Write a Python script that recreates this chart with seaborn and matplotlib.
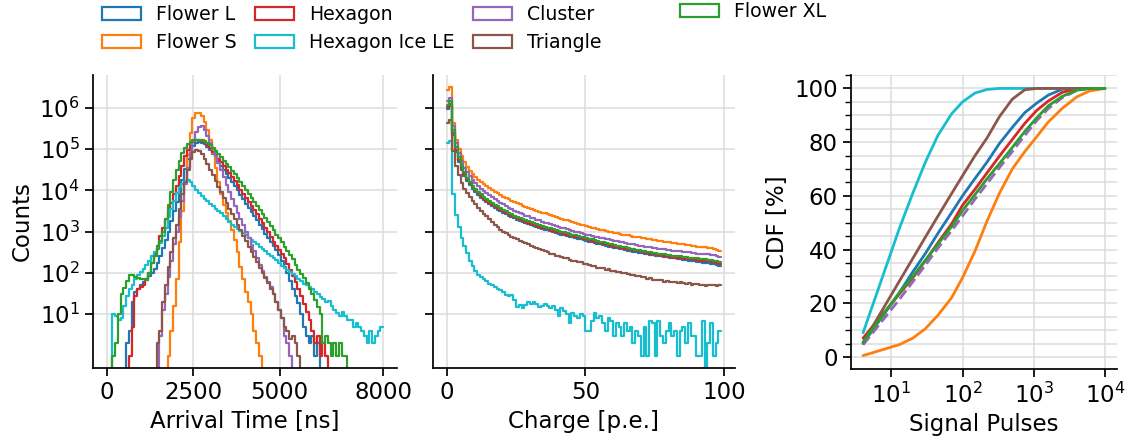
import numpy as np
import matplotlib
matplotlib.use("Agg")
import matplotlib.pyplot as plt
from matplotlib.patches import Patch
from matplotlib.ticker import MultipleLocator, NullLocator
import seaborn as sns

EMPTY = -np.inf  # log10 of an empty bin

# ---------------- series names and colours ----------------
names = ["Flower L", "Flower S", "Hexagon", "Hexagon Ice LE", "Cluster", "Triangle", "Flower XL"]
colors = ["#1f77b4", "#ff7f0e", "#d62728", "#17becf", "#9467bd", "#8c564b", "#2ca02c"]

# ---------------- arrival time histograms (log10 counts, 80 ns bins) ----------------
time_edges = np.linspace(0, 8000, 101)

time_flower_l = [EMPTY] * 7 + [
    0.3, 0.6, 1.3, 1.55, 1.62, 1.7, 1.78, 1.85, 1.93, 2.0, 2.1, 2.25, 2.42, 2.6, 2.8, 3.0, 3.25, 3.5, 3.72, 3.95,
    4.25, 4.52, 4.77, 4.95, 5.07, 5.14, 5.16, 5.15, 5.12, 5.06, 4.98, 4.89, 4.8, 4.7, 4.6, 4.5, 4.4, 4.3, 4.2, 4.1,
    4.0, 3.88, 3.78, 3.68, 3.58, 3.48, 3.38, 3.28, 3.17, 3.06, 2.95, 2.85, 2.75, 2.65, 2.55, 2.44, 2.3, 2.15, 2.0, 1.8,
    1.62, 1.45, 1.28, 1.0, 0.7, 0.48, 0.3, 0.48, 0.0, 0.3] + [EMPTY] * 23

time_flower_s = [EMPTY] * 22 + [
    0.0, 0.6, 1.2, 1.85, 2.75, 3.5, 4.2, 4.85, 5.4, 5.75, 5.88, 5.87, 5.8, 5.65, 5.45, 5.22, 4.9, 4.55, 4.2, 3.9,
    3.65, 3.45, 3.25, 3.05, 2.8, 2.5, 2.15, 1.85, 1.55, 1.3, 1.0, 0.6, 0.3, 0.0] + [EMPTY] * 44

time_hexagon = [EMPTY] * 8 + [
    0.0, 0.7, 1.45, 1.6, 1.65, 1.72, 1.82, 2.0, 2.25, 2.45, 2.65, 2.9, 3.1, 3.3, 3.5, 3.7, 3.9, 4.1, 4.35, 4.6,
    4.82, 4.98, 5.1, 5.17, 5.21, 5.22, 5.2, 5.15, 5.09, 5.02, 4.94, 4.86, 4.77, 4.68, 4.59, 4.5, 4.41, 4.32, 4.22, 4.12,
    4.02, 3.92, 3.82, 3.72, 3.62, 3.52, 3.42, 3.3, 3.2, 3.09, 2.98, 2.87, 2.76, 2.65, 2.55, 2.45, 2.35, 2.22, 2.08, 1.93,
    1.78, 1.62, 1.45, 1.25, 1.05, 0.85, 0.6, 0.3, 0.48, 0.0, 0.3, 0.0] + [EMPTY] * 20

time_ice = [EMPTY] * 2 + [
    1.0, 0.95, 0.85, 0.9, 1.2, 1.45, 1.6, 1.7, 1.85, 1.95, 2.03, 2.1, 2.2, 2.3, 2.4, 2.5, 2.6, 2.73, 2.9, 3.1,
    3.35, 3.55, 3.75, 3.93, 4.07, 4.16, 4.22, 4.25, 4.2, 4.1, 4.0, 3.93, 3.86, 3.8, 3.74, 3.68, 3.62, 3.56, 3.5, 3.44,
    3.37, 3.3, 3.23, 3.17, 3.11, 3.06, 3.01, 2.96, 2.91, 2.85, 2.8, 2.75, 2.69, 2.63, 2.57, 2.52, 2.46, 2.41, 2.36, 2.31,
    2.25, 2.18, 2.12, 2.08, 2.02, 1.98, 1.93, 1.86, 1.8, 1.74, 1.7, 1.66, 1.6, 1.55, 1.48, 1.42, 1.38, 1.3, 1.32, 1.2,
    1.1, 1.02, 0.95, 1.05, 0.95, 0.85, 0.85, 0.7, 0.78, 0.7, 0.6, 0.48, 0.3, 0.6, 0.3, 0.48, 0.6, 0.7]

time_cluster = [EMPTY] * 19 + [
    0.48, 1.1, 1.5, 1.9, 2.3, 2.7, 3.0, 3.35, 3.75, 4.15, 4.55, 4.9, 5.2, 5.42, 5.54, 5.56, 5.47, 5.32, 5.15, 5.0,
    4.83, 4.66, 4.49, 4.32, 4.14, 3.96, 3.78, 3.62, 3.46, 3.3, 3.15, 3.0, 2.84, 2.68, 2.52, 2.36, 2.2, 2.05, 1.9, 1.78,
    1.65, 1.5, 1.3, 1.1, 0.9, 0.48, 0.3, 0.0] + [EMPTY] * 33

time_triangle = [EMPTY] * 18 + [
    0.3, 0.6, 1.3, 1.7, 2.15, 2.5, 2.85, 3.15, 3.55, 3.9, 4.2, 4.5, 4.75, 4.92, 4.98, 4.96, 4.88, 4.77, 4.64, 4.5,
    4.36, 4.22, 4.08, 3.95, 3.82, 3.69, 3.56, 3.43, 3.3, 3.17, 3.04, 2.9, 2.77, 2.64, 2.5, 2.38, 2.26, 2.13, 2.0, 1.87,
    1.75, 1.62, 1.48, 1.3, 1.1, 0.9, 0.7, 0.6, 0.4, 0.48, 0.3, 0.0] + [EMPTY] * 30

time_flower_xl = [EMPTY] * 2 + [
    0.0, 0.3, 1.0, 1.5, 1.63, 1.8, 1.95, 1.95, 1.9, 1.88, 1.85, 1.85, 1.83, 2.0, 2.23, 2.4, 2.58, 2.78, 3.0, 3.3,
    3.65, 3.95, 4.25, 4.5, 4.72, 4.9, 5.03, 5.12, 5.18, 5.21, 5.22, 5.22, 5.21, 5.19, 5.15, 5.1, 5.03, 4.96, 4.88, 4.8,
    4.72, 4.64, 4.56, 4.47, 4.39, 4.3, 4.21, 4.11, 4.01, 3.91, 3.81, 3.72, 3.62, 3.53, 3.43, 3.33, 3.23, 3.13, 3.03, 2.93,
    2.84, 2.74, 2.64, 2.54, 2.44, 2.33, 2.2, 2.08, 1.97, 1.87, 1.76, 1.62, 1.48, 1.34, 1.18, 1.0, 0.3, 0.48, 0.3, 0.0,
    0.3, 0.0, 0.3, 0.0, 0.0] + [EMPTY] * 13

# ---------------- charge histograms (log10 counts, 1 p.e. bins) ----------------
charge_edges = np.arange(0, 100)

charge_flower_l = [
    5.98, 6.05, 5.33, 4.93, 4.69, 4.50, 4.35, 4.22, 4.12, 4.03, 3.95, 3.88, 3.82, 3.76, 3.71, 3.66, 3.61, 3.57, 3.53, 3.49,
    3.45, 3.42, 3.38, 3.35, 3.32, 3.29, 3.26, 3.24, 3.21, 3.19, 3.16, 3.14, 3.12, 3.09, 3.07, 3.05, 3.03, 3.01, 2.99, 2.97,
    2.95, 2.93, 2.91, 2.90, 2.88, 2.86, 2.84, 2.82, 2.81, 2.79, 2.77, 2.75, 2.74, 2.72, 2.71, 2.69, 2.67, 2.66, 2.64, 2.63,
    2.61, 2.60, 2.58, 2.57, 2.55, 2.54, 2.53, 2.51, 2.50, 2.49, 2.48, 2.47, 2.45, 2.44, 2.43, 2.42, 2.41, 2.40, 2.39, 2.38,
    2.37, 2.36, 2.35, 2.34, 2.33, 2.32, 2.31, 2.30, 2.29, 2.28, 2.27, 2.26, 2.25, 2.24, 2.23, 2.22, 2.21, 2.19, 2.17]

charge_flower_s = [
    6.44, 6.49, 5.63, 5.23, 5.00, 4.82, 4.68, 4.57, 4.47, 4.39, 4.32, 4.26, 4.20, 4.15, 4.10, 4.05, 4.01, 3.97, 3.93, 3.89,
    3.85, 3.82, 3.78, 3.75, 3.72, 3.69, 3.66, 3.63, 3.60, 3.58, 3.55, 3.53, 3.51, 3.48, 3.46, 3.44, 3.42, 3.40, 3.37, 3.35,
    3.33, 3.31, 3.29, 3.27, 3.25, 3.23, 3.21, 3.19, 3.17, 3.16, 3.14, 3.12, 3.10, 3.09, 3.07, 3.05, 3.03, 3.02, 3.00, 2.99,
    2.97, 2.96, 2.95, 2.93, 2.92, 2.91, 2.90, 2.88, 2.87, 2.86, 2.85, 2.84, 2.82, 2.81, 2.80, 2.79, 2.78, 2.77, 2.76, 2.75,
    2.74, 2.73, 2.72, 2.71, 2.70, 2.69, 2.68, 2.67, 2.66, 2.65, 2.64, 2.63, 2.62, 2.62, 2.61, 2.60, 2.58, 2.56, 2.53]

charge_hexagon = [
    6.02, 6.10, 5.38, 4.98, 4.74, 4.55, 4.40, 4.27, 4.17, 4.08, 4.00, 3.93, 3.86, 3.80, 3.75, 3.70, 3.65, 3.61, 3.57, 3.53,
    3.49, 3.45, 3.42, 3.38, 3.35, 3.32, 3.29, 3.27, 3.24, 3.22, 3.19, 3.17, 3.14, 3.12, 3.10, 3.08, 3.06, 3.04, 3.02, 3.00,
    2.98, 2.96, 2.94, 2.93, 2.91, 2.89, 2.87, 2.86, 2.84, 2.83, 2.81, 2.79, 2.77, 2.76, 2.74, 2.72, 2.70, 2.69, 2.67, 2.66,
    2.64, 2.63, 2.61, 2.60, 2.58, 2.57, 2.56, 2.55, 2.53, 2.52, 2.51, 2.50, 2.48, 2.47, 2.46, 2.45, 2.44, 2.42, 2.41, 2.40,
    2.39, 2.38, 2.37, 2.37, 2.36, 2.35, 2.34, 2.33, 2.33, 2.32, 2.31, 2.30, 2.29, 2.29, 2.28, 2.27, 2.26, 2.24, 2.22]

# sparse sample: raw counts per bin
charge_ice_counts = [
    140000, 155000, 8000, 2600, 1300, 700, 450, 300, 200, 150, 110, 90, 80, 72, 65, 55, 50, 45, 42, 38,
    35, 30, 28, 30, 22, 15, 17, 14, 17, 20, 18, 20, 18, 15, 16, 18, 16, 14, 16, 13,
    9, 14, 12, 10, 6, 11, 9, 8, 10, 9, 4, 4, 7, 11, 8, 9, 6, 4, 8, 7,
    3, 6, 5, 3, 6, 4, 5, 2, 4, 3, 1, 5, 1, 7, 6, 1, 7, 3, 2, 4,
    6, 3, 4, 1, 4, 5, 2, 6, 3, 3, 1, 1, 7, 0, 2, 6, 1, 2, 4]

charge_cluster = [
    6.17, 6.23, 5.55, 5.15, 4.90, 4.70, 4.55, 4.44, 4.34, 4.25, 4.17, 4.10, 4.04, 3.98, 3.93, 3.88, 3.83, 3.79, 3.74, 3.70,
    3.66, 3.62, 3.58, 3.55, 3.51, 3.48, 3.45, 3.42, 3.39, 3.37, 3.34, 3.32, 3.29, 3.27, 3.24, 3.22, 3.20, 3.18, 3.16, 3.14,
    3.12, 3.10, 3.08, 3.06, 3.04, 3.02, 3.00, 2.98, 2.97, 2.95, 2.93, 2.91, 2.90, 2.88, 2.87, 2.85, 2.84, 2.82, 2.81, 2.79,
    2.78, 2.77, 2.75, 2.74, 2.72, 2.71, 2.70, 2.69, 2.67, 2.66, 2.65, 2.64, 2.63, 2.62, 2.61, 2.60, 2.59, 2.58, 2.57, 2.56,
    2.55, 2.54, 2.54, 2.53, 2.52, 2.51, 2.50, 2.50, 2.49, 2.48, 2.47, 2.47, 2.46, 2.45, 2.45, 2.44, 2.43, 2.41, 2.38]

charge_triangle = [
    5.62, 5.70, 4.95, 4.58, 4.36, 4.18, 4.04, 3.93, 3.83, 3.74, 3.66, 3.58, 3.50, 3.43, 3.37, 3.30, 3.24, 3.17, 3.11, 3.05,
    3.00, 2.96, 2.93, 2.88, 2.85, 2.82, 2.78, 2.76, 2.72, 2.69, 2.66, 2.64, 2.60, 2.58, 2.55, 2.52, 2.51, 2.47, 2.45, 2.42,
    2.40, 2.39, 2.35, 2.36, 2.31, 2.30, 2.28, 2.26, 2.27, 2.22, 2.21, 2.19, 2.16, 2.17, 2.13, 2.12, 2.11, 2.08, 2.09, 2.05,
    2.05, 2.02, 2.03, 1.99, 2.00, 1.98, 1.95, 1.96, 1.92, 1.93, 1.90, 1.89, 1.86, 1.88, 1.84, 1.84, 1.82, 1.83, 1.79, 1.80,
    1.79, 1.77, 1.78, 1.75, 1.77, 1.76, 1.73, 1.75, 1.72, 1.74, 1.73, 1.70, 1.72, 1.69, 1.71, 1.70, 1.72, 1.69, 1.72]

charge_flower_xl = [
    6.07, 6.17, 5.45, 5.05, 4.80, 4.60, 4.44, 4.30, 4.20, 4.11, 4.03, 3.96, 3.90, 3.84, 3.79, 3.74, 3.69, 3.65, 3.61, 3.57,
    3.53, 3.49, 3.46, 3.42, 3.39, 3.36, 3.33, 3.31, 3.28, 3.26, 3.23, 3.21, 3.18, 3.16, 3.14, 3.12, 3.10, 3.08, 3.06, 3.04,
    3.02, 3.00, 2.98, 2.97, 2.95, 2.93, 2.91, 2.90, 2.88, 2.87, 2.85, 2.83, 2.81, 2.80, 2.78, 2.76, 2.74, 2.73, 2.71, 2.70,
    2.68, 2.66, 2.65, 2.63, 2.62, 2.60, 2.59, 2.58, 2.56, 2.55, 2.54, 2.53, 2.51, 2.50, 2.49, 2.48, 2.47, 2.46, 2.45, 2.44,
    2.43, 2.42, 2.41, 2.41, 2.40, 2.39, 2.38, 2.37, 2.37, 2.36, 2.35, 2.34, 2.33, 2.33, 2.32, 2.31, 2.30, 2.29, 2.27]

# ---------------- cumulative signal-pulse distributions [%] ----------------
pulses = [4, 13, 20, 30, 45, 70, 100, 150, 220, 330, 500, 750, 1100, 1600, 2500, 4000, 6000, 10000]
cdf_flower_l = [5.0, 24.0, 31.7, 38.5, 46.0, 53.7, 60.0, 66.5, 72.5, 79.5, 85.5, 91.0, 94.5, 97.5, 99.7, 100, 100, 100]
cdf_flower_s = [0.5, 4.6, 7.0, 10.5, 15.5, 22.0, 29.5, 39.5, 50.5, 61.0, 70.0, 76.5, 82.0, 87.5, 92.5, 96.8, 99.0, 100]
cdf_hexagon = [7.0, 23.5, 29.5, 35.8, 42.5, 49.5, 56.5, 62.5, 68.5, 74.8, 81.0, 87.0, 91.8, 95.3, 98.5, 99.9, 100, 100]
cdf_ice = [9.0, 48.0, 61.0, 72.5, 82.5, 90.5, 95.0, 98.3, 99.6, 100, 100, 100, 100, 100, 100, 100, 100, 100]
cdf_cluster = [4.5, 21.5, 28.0, 34.2, 40.5, 47.0, 52.5, 58.8, 64.5, 70.5, 76.5, 82.5, 88.0, 92.5, 96.5, 99.2, 100, 100]
cdf_triangle = [5.3, 28.3, 36.7, 44.6, 52.4, 60.8, 67.5, 75.0, 81.5, 89.5, 96.0, 99.5, 100, 100, 100, 100, 100, 100]
cdf_flower_xl = [5.5, 24.0, 30.0, 36.0, 42.0, 48.5, 54.5, 60.5, 66.3, 72.0, 78.0, 84.0, 89.0, 93.5, 97.0, 99.3, 100, 100]


def to_counts(log_counts):
    lc = np.asarray(log_counts, dtype=float)
    return np.where(np.isfinite(lc), 10.0 ** lc, 0.0)


time_counts = [to_counts(v) for v in
               (time_flower_l, time_flower_s, time_hexagon, time_ice, time_cluster, time_triangle, time_flower_xl)]
charge_counts = [to_counts(charge_flower_l), to_counts(charge_flower_s), to_counts(charge_hexagon),
                 np.asarray(charge_ice_counts, dtype=float), to_counts(charge_cluster),
                 to_counts(charge_triangle), to_counts(charge_flower_xl)]
cdf_series = [cdf_flower_l, cdf_flower_s, cdf_hexagon, cdf_ice, cdf_cluster, cdf_triangle, cdf_flower_xl]
line_styles = ["-", "-", "-", "-", "--", "-", "-"]

# ---------------- figure ----------------
sns.set_theme(context="notebook", style="ticks",
              rc={"text.color": "black", "axes.labelcolor": "black", "axes.edgecolor": "black",
                  "xtick.color": "black", "ytick.color": "black"})
plt.rcParams["font.family"] = ["DejaVu Sans"]
TICK_FS = 16.5
LABEL_FS = 16.5
GRID = dict(color="#dcdcdc", linewidth=1.1)

fig = plt.figure(figsize=(11.31, 4.43), dpi=100)
ax_t = fig.add_axes([0.0822, 0.1693, 0.2688, 0.6614])
ax_q = fig.add_axes([0.3828, 0.1693, 0.2670, 0.6614], sharey=ax_t)
ax_c = fig.add_axes([0.7524, 0.1670, 0.2352, 0.6637])


def draw_hist(ax, edges, counts, color):
    edges = np.asarray(edges, dtype=float)
    centers = 0.5 * (edges[:-1] + edges[1:])
    sns.histplot(x=centers, weights=counts, bins=list(edges), element="step", fill=False,
                 color=color, linewidth=1.6, ax=ax)


for vals, col in zip(time_counts, colors):
    draw_hist(ax_t, time_edges, vals, col)
for vals, col in zip(charge_counts, colors):
    draw_hist(ax_q, charge_edges, vals, col)
for vals, col, ls in zip(cdf_series, colors, line_styles):
    sns.lineplot(x=pulses, y=vals, color=col, linewidth=2.0, linestyle=ls, ax=ax_c)

# arrival time panel
ax_t.set_yscale("log")
ax_t.set_ylim(0.5, 6.2e6)
ax_t.set_yticks([1e1, 1e2, 1e3, 1e4, 1e5, 1e6])
ax_t.yaxis.set_minor_locator(NullLocator())
ax_t.set_xlim(-400, 8400)
ax_t.set_xticks([0, 2500, 5000, 8000])
ax_t.set_xlabel("Arrival Time [ns]", fontsize=LABEL_FS)
ax_t.set_ylabel("Counts", fontsize=LABEL_FS)

# charge panel
ax_q.set_xlim(-4.95, 103.95)
ax_q.set_xticks([0, 50, 100])
ax_q.tick_params(labelleft=False)
ax_q.set_xlabel("Charge [p.e.]", fontsize=LABEL_FS)
ax_q.set_ylabel("")

# CDF panel
ax_c.set_xscale("log")
ax_c.set_xlim(10 ** 0.432, 10 ** 4.17)
ax_c.set_xticks([1e1, 1e2, 1e3, 1e4])
ax_c.xaxis.set_minor_locator(NullLocator())
ax_c.set_ylim(-4.5, 105)
ax_c.set_yticks([0, 20, 40, 60, 80, 100])
ax_c.yaxis.set_minor_locator(MultipleLocator(5))
ax_c.set_xlabel("Signal Pulses", fontsize=LABEL_FS)
ax_c.set_ylabel("CDF [%]", fontsize=LABEL_FS)

for ax in (ax_t, ax_q, ax_c):
    ax.tick_params(labelsize=TICK_FS)
    ax.grid(True, which="major", **GRID)
    ax.set_axisbelow(True)
ax_c.grid(True, which="minor", axis="y", **GRID)
sns.despine(fig=fig)

# legend: unfilled outlines, as drawn by the step histograms
handles = [Patch(facecolor="none", edgecolor=c, linewidth=1.6, label=n) for n, c in zip(names, colors)]
leg_kw = dict(frameon=False, fontsize=13.6, handlelength=2.06, handleheight=0.67,
              handletextpad=0.82, columnspacing=0.95, labelspacing=0.48, borderaxespad=0)
fig.legend(handles=handles[:6], ncol=3, loc="upper left", bbox_to_anchor=(94.4 / 1131, 1.006), **leg_kw)
fig.legend(handles=handles[6:], ncol=1, loc="upper left", bbox_to_anchor=(672.4 / 1131, 1.0128), **leg_kw)

fig.savefig("out.png", dpi=100)
